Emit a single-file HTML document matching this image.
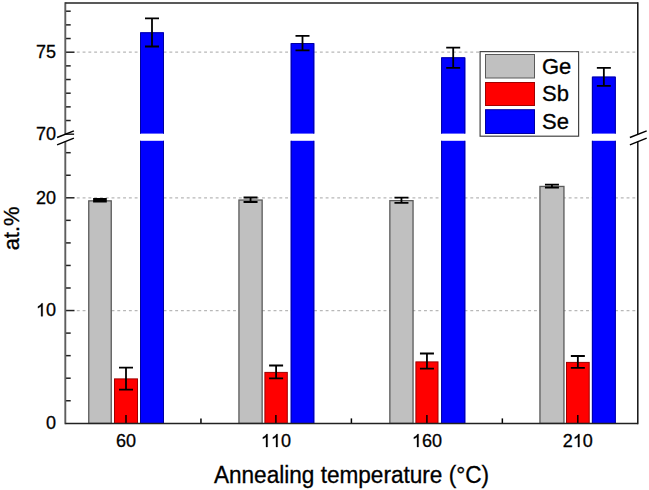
<!DOCTYPE html><html><head><meta charset="utf-8"><style>
html,body{margin:0;padding:0;background:#fff;width:649px;height:490px;overflow:hidden}
svg{display:block}text{font-family:"Liberation Sans", sans-serif;fill:#000;stroke:#000;stroke-width:0.3px}
</style></head><body>
<svg width="649" height="490" viewBox="0 0 649 490">
<line x1="76.8" y1="52.10" x2="636.8" y2="52.10" stroke="#b8b8b8" stroke-width="1.4" stroke-dasharray="2.9 2.887"/>
<line x1="76.8" y1="197.85" x2="636.8" y2="197.85" stroke="#b8b8b8" stroke-width="1.4" stroke-dasharray="2.9 2.887"/>
<line x1="76.8" y1="310.65" x2="636.8" y2="310.65" stroke="#b8b8b8" stroke-width="1.4" stroke-dasharray="2.9 2.887"/>
<rect x="88.75" y="200.85" width="22.50" height="222.55" fill="#c0c0c0" stroke="#5a5a5a" stroke-width="1.3"/>
<rect x="238.95" y="200.05" width="23.20" height="223.35" fill="#c0c0c0" stroke="#5a5a5a" stroke-width="1.3"/>
<rect x="389.85" y="200.65" width="23.20" height="222.75" fill="#c0c0c0" stroke="#5a5a5a" stroke-width="1.3"/>
<rect x="539.95" y="186.45" width="24.00" height="236.95" fill="#c0c0c0" stroke="#5a5a5a" stroke-width="1.3"/>
<rect x="114.50" y="378.90" width="23.00" height="44.50" fill="#ff0000" stroke="#a00000" stroke-width="1.0"/>
<rect x="264.90" y="372.40" width="22.40" height="51.00" fill="#ff0000" stroke="#a00000" stroke-width="1.0"/>
<rect x="415.90" y="361.90" width="22.10" height="61.50" fill="#ff0000" stroke="#a00000" stroke-width="1.0"/>
<rect x="566.50" y="362.40" width="22.70" height="61.00" fill="#ff0000" stroke="#a00000" stroke-width="1.0"/>
<rect x="140.00" y="140.80" width="24.00" height="282.60" fill="#0000ff"/>
<path d="M140.50 140.80V423.40M163.50 140.80V423.40" stroke="#0000a0" stroke-width="1" fill="none"/>
<rect x="140.00" y="32.30" width="24.00" height="101.30" fill="#0000ff"/>
<path d="M140.50 133.60V32.80H163.50V133.60" stroke="#0000a0" stroke-width="1" fill="none"/>
<rect x="290.70" y="140.80" width="23.60" height="282.60" fill="#0000ff"/>
<path d="M291.20 140.80V423.40M313.80 140.80V423.40" stroke="#0000a0" stroke-width="1" fill="none"/>
<rect x="290.70" y="43.00" width="23.60" height="90.60" fill="#0000ff"/>
<path d="M291.20 133.60V43.50H313.80V133.60" stroke="#0000a0" stroke-width="1" fill="none"/>
<rect x="441.10" y="140.80" width="24.20" height="282.60" fill="#0000ff"/>
<path d="M441.60 140.80V423.40M464.80 140.80V423.40" stroke="#0000a0" stroke-width="1" fill="none"/>
<rect x="441.10" y="57.30" width="24.20" height="76.30" fill="#0000ff"/>
<path d="M441.60 133.60V57.80H464.80V133.60" stroke="#0000a0" stroke-width="1" fill="none"/>
<rect x="591.90" y="140.80" width="23.90" height="282.60" fill="#0000ff"/>
<path d="M592.40 140.80V423.40M615.30 140.80V423.40" stroke="#0000a0" stroke-width="1" fill="none"/>
<rect x="591.90" y="76.60" width="23.90" height="57.00" fill="#0000ff"/>
<path d="M592.40 133.60V77.10H615.30V133.60" stroke="#0000a0" stroke-width="1" fill="none"/>
<rect x="93.1" y="198.0" width="13.7" height="4.5" fill="#000"/>
<path d="M243.55 197.50H257.55M243.55 202.00H257.55M250.55 197.50V202.00" stroke="#000" stroke-width="1.8" fill="none"/>
<path d="M394.45 197.60H408.45M394.45 202.80H408.45M401.45 197.60V202.80" stroke="#000" stroke-width="1.8" fill="none"/>
<path d="M544.95 184.70H558.95M544.95 187.70H558.95M551.95 184.70V187.70" stroke="#000" stroke-width="1.8" fill="none"/>
<path d="M119.00 367.60H133.00M119.00 389.60H133.00M126.00 367.60V389.60" stroke="#000" stroke-width="1.8" fill="none"/>
<path d="M269.10 365.50H283.10M269.10 378.30H283.10M276.10 365.50V378.30" stroke="#000" stroke-width="1.8" fill="none"/>
<path d="M419.95 353.50H433.95M419.95 368.60H433.95M426.95 353.50V368.60" stroke="#000" stroke-width="1.8" fill="none"/>
<path d="M570.85 356.00H584.85M570.85 367.80H584.85M577.85 356.00V367.80" stroke="#000" stroke-width="1.8" fill="none"/>
<path d="M145.00 18.30H159.00M145.00 46.50H159.00M152.00 18.30V46.50" stroke="#000" stroke-width="1.8" fill="none"/>
<path d="M295.50 35.80H309.50M295.50 50.30H309.50M302.50 35.80V50.30" stroke="#000" stroke-width="1.8" fill="none"/>
<path d="M446.20 47.60H460.20M446.20 67.80H460.20M453.20 47.60V67.80" stroke="#000" stroke-width="1.8" fill="none"/>
<path d="M596.85 67.80H610.85M596.85 85.80H610.85M603.85 67.80V85.80" stroke="#000" stroke-width="1.8" fill="none"/>
<line x1="126.00" y1="423.40" x2="126.00" y2="414.90" stroke="#000" stroke-width="1.5"/>
<line x1="275.90" y1="423.40" x2="275.90" y2="414.90" stroke="#000" stroke-width="1.5"/>
<line x1="426.90" y1="423.40" x2="426.90" y2="414.90" stroke="#000" stroke-width="1.5"/>
<line x1="577.80" y1="423.40" x2="577.80" y2="414.90" stroke="#000" stroke-width="1.5"/>
<line x1="200.95" y1="423.40" x2="200.95" y2="418.40" stroke="#000" stroke-width="1.5"/>
<line x1="351.40" y1="423.40" x2="351.40" y2="418.40" stroke="#000" stroke-width="1.5"/>
<line x1="502.35" y1="423.40" x2="502.35" y2="418.40" stroke="#000" stroke-width="1.5"/>
<line x1="65.30" y1="400.75" x2="70.70" y2="400.75" stroke="#222" stroke-width="1.5"/>
<line x1="65.30" y1="378.20" x2="70.70" y2="378.20" stroke="#222" stroke-width="1.5"/>
<line x1="65.30" y1="355.65" x2="70.70" y2="355.65" stroke="#222" stroke-width="1.5"/>
<line x1="65.30" y1="333.10" x2="70.70" y2="333.10" stroke="#222" stroke-width="1.5"/>
<line x1="65.30" y1="310.55" x2="74.50" y2="310.55" stroke="#222" stroke-width="1.5"/>
<line x1="65.30" y1="288.00" x2="70.70" y2="288.00" stroke="#222" stroke-width="1.5"/>
<line x1="65.30" y1="265.45" x2="70.70" y2="265.45" stroke="#222" stroke-width="1.5"/>
<line x1="65.30" y1="242.90" x2="70.70" y2="242.90" stroke="#222" stroke-width="1.5"/>
<line x1="65.30" y1="220.35" x2="70.70" y2="220.35" stroke="#222" stroke-width="1.5"/>
<line x1="65.30" y1="197.80" x2="74.50" y2="197.80" stroke="#222" stroke-width="1.5"/>
<line x1="65.30" y1="175.25" x2="70.70" y2="175.25" stroke="#222" stroke-width="1.5"/>
<line x1="65.30" y1="152.70" x2="70.70" y2="152.70" stroke="#222" stroke-width="1.5"/>
<line x1="65.30" y1="120.53" x2="70.70" y2="120.53" stroke="#222" stroke-width="1.5"/>
<line x1="65.30" y1="106.87" x2="70.70" y2="106.87" stroke="#222" stroke-width="1.5"/>
<line x1="65.30" y1="93.20" x2="70.70" y2="93.20" stroke="#222" stroke-width="1.5"/>
<line x1="65.30" y1="79.53" x2="70.70" y2="79.53" stroke="#222" stroke-width="1.5"/>
<line x1="65.30" y1="65.87" x2="70.70" y2="65.87" stroke="#222" stroke-width="1.5"/>
<line x1="65.30" y1="52.20" x2="74.50" y2="52.20" stroke="#222" stroke-width="1.5"/>
<line x1="65.30" y1="38.53" x2="70.70" y2="38.53" stroke="#222" stroke-width="1.5"/>
<line x1="65.30" y1="24.87" x2="70.70" y2="24.87" stroke="#222" stroke-width="1.5"/>
<line x1="65.30" y1="11.20" x2="70.70" y2="11.20" stroke="#222" stroke-width="1.5"/>
<line x1="65.30" y1="2.20" x2="65.30" y2="134.20" stroke="#5e5e5e" stroke-width="1.9"/>
<line x1="65.30" y1="141.40" x2="65.30" y2="424.20" stroke="#5e5e5e" stroke-width="1.9"/>
<line x1="637.80" y1="2.20" x2="637.80" y2="134.20" stroke="#111" stroke-width="1.5"/>
<line x1="637.80" y1="141.40" x2="637.80" y2="424.20" stroke="#111" stroke-width="1.5"/>
<line x1="65.30" y1="3.00" x2="637.80" y2="3.00" stroke="#222" stroke-width="1.6"/>
<line x1="65.30" y1="423.40" x2="637.80" y2="423.40" stroke="#222" stroke-width="1.5"/>
<line x1="65.30" y1="134.20" x2="74.10" y2="134.20" stroke="#222" stroke-width="1.5"/>
<line x1="57.10" y1="137.55" x2="73.90" y2="130.85" stroke="#000" stroke-width="1.5"/>
<line x1="57.10" y1="144.85" x2="73.90" y2="138.15" stroke="#000" stroke-width="1.5"/>
<line x1="629.90" y1="137.55" x2="646.70" y2="130.85" stroke="#000" stroke-width="1.5"/>
<line x1="629.90" y1="144.85" x2="646.70" y2="138.15" stroke="#000" stroke-width="1.5"/>
<rect x="480.1" y="51.6" width="98.5" height="84.6" fill="#fff" stroke="#444" stroke-width="1.2"/>
<rect x="485.5" y="54.50" width="49" height="23.50" fill="#c0c0c0" stroke="#5a5a5a" stroke-width="1"/>
<rect x="485.5" y="82.50" width="49" height="23.00" fill="#ff0000" stroke="#a00000" stroke-width="1"/>
<rect x="485.5" y="109.70" width="49" height="23.80" fill="#0000ff" stroke="#0000a0" stroke-width="1"/>
<text x="542" y="73.60" font-size="22">Ge</text>
<text x="542" y="101.10" font-size="22">Sb</text>
<text x="542" y="128.70" font-size="22">Se</text>
<text x="35.98" y="58.00" font-size="18">75</text>
<text x="35.98" y="140.20" font-size="18">70</text>
<text x="35.98" y="203.60" font-size="18">20</text>
<text x="35.98" y="316.30" font-size="18"> 0</text><path transform="translate(35.98 316.30) scale(0.00879 -0.00879)" d="M763 0L583 0L583 1147Q518 1085 412.5 1023Q307 961 223 930L223 1104Q374 1175 487 1276Q600 1377 647 1472L763 1472Z" fill="#000" stroke="#000" stroke-width="34.1"/>
<text x="45.99" y="429.00" font-size="18">0</text>
<text x="115.99" y="447.00" font-size="18">60</text>
<text x="260.88" y="447.00" font-size="18">  0</text><path transform="translate(260.88 447.00) scale(0.00879 -0.00879)" d="M763 0L583 0L583 1147Q518 1085 412.5 1023Q307 961 223 930L223 1104Q374 1175 487 1276Q600 1377 647 1472L763 1472Z" fill="#000" stroke="#000" stroke-width="34.1"/><path transform="translate(270.89 447.00) scale(0.00879 -0.00879)" d="M763 0L583 0L583 1147Q518 1085 412.5 1023Q307 961 223 930L223 1104Q374 1175 487 1276Q600 1377 647 1472L763 1472Z" fill="#000" stroke="#000" stroke-width="34.1"/>
<text x="411.88" y="447.00" font-size="18"> 60</text><path transform="translate(411.88 447.00) scale(0.00879 -0.00879)" d="M763 0L583 0L583 1147Q518 1085 412.5 1023Q307 961 223 930L223 1104Q374 1175 487 1276Q600 1377 647 1472L763 1472Z" fill="#000" stroke="#000" stroke-width="34.1"/>
<text x="562.78" y="447.00" font-size="18">2 0</text><path transform="translate(572.79 447.00) scale(0.00879 -0.00879)" d="M763 0L583 0L583 1147Q518 1085 412.5 1023Q307 961 223 930L223 1104Q374 1175 487 1276Q600 1377 647 1472L763 1472Z" fill="#000" stroke="#000" stroke-width="34.1"/>
<text transform="translate(351.5 482.6) scale(1 1.05)" font-size="22.6" text-anchor="middle">Annealing temperature (°C)</text>
<text transform="translate(19.4 228.4) rotate(-90) scale(1 1.045)" font-size="21.9" text-anchor="middle">at.%</text>
</svg></body></html>
